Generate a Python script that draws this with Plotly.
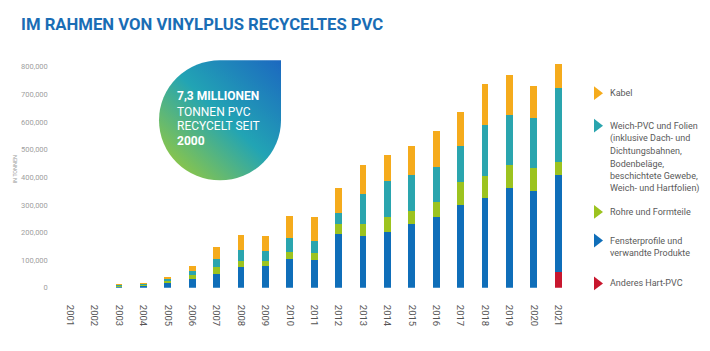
import base64
import plotly.graph_objects as go

W, H = 710, 351

years = [str(y) for y in range(2001, 2022)]
# values in tonnes
anderes = [0]*20 + [57000]
fenster = [0, 0, 5000, 8000, 19000, 34000, 52000, 76000, 81000, 105000, 101000, 195000, 189000,
           201000, 230000, 255000, 300000, 324000, 361000, 351000, 353000]
rohre = [0, 0, 3000, 4000, 8000, 12000, 22000, 23000, 15000, 26000, 25000, 38000, 41000,
         55000, 50000, 57000, 82000, 82000, 85000, 82000, 46000]
weich = [0, 0, 3000, 3000, 6000, 15000, 29000, 39000, 37000, 50000, 45000, 38000, 109000,
         131000, 127000, 127000, 130000, 182000, 181000, 181000, 269000]
kabel = [0, 0, 2000, 2000, 4000, 19000, 45000, 55000, 55000, 79000, 84000, 90000, 104000,
         93000, 106000, 129000, 126000, 151000, 144000, 117000, 85000]

series_names = ["Anderes Hart-PVC", "Fensterprofile und verwandte Produkte", "Rohre und Formteile",
                "Weich-PVC und Folien", "Kabel"]
series_vals = [anderes, fenster, rohre, weich, kabel]
colors = ["#c8172e", "#0f6eb9", "#9cc31f", "#2aa5ae", "#f5ab1c"]

y_ticks = list(range(0, 800001, 100000))

title_text = "IM RAHMEN VON VINYLPLUS RECYCELTES PVC"
bubble_lines = [("7,3 MILLIONEN", True), ("TONNEN PVC", False), ("RECYCELT SEIT", False), ("2000", True)]

legend_items = [
    ("#f5ab1c", ["Kabel"]),
    ("#2aa5ae", ["Weich-PVC und Folien", "(inklusive Dach- und", "Dichtungsbahnen,", "Bodenbeläge,",
                 "beschichtete Gewebe,", "Weich- und Hartfolien)"]),
    ("#9cc31f", ["Rohre und Formteile"]),
    ("#0f6eb9", ["Fensterprofile und", "verwandte Produkte"]),
    ("#c8172e", ["Anderes Hart-PVC"]),
]
legend_y = [94.5, 127.5, 215, 244, 287.5]
line_gap = 12.8

# geometry (pixels)
plot_left, plot_right = 57.8, 570.2
base_px, top_px = 292.0, 53.7
ymax = 850000

fig = go.Figure()
for name, vals, col in zip(series_names, series_vals, colors):
    fig.add_trace(go.Bar(x=years, y=vals, name=name, marker=dict(color=col, line=dict(width=0)),
                         width=0.28, showlegend=False, hoverinfo="y"))

# legend triangles on overlay axes (pixel space)
fig.add_trace(go.Scatter(x=[597]*5, y=legend_y, mode="markers", xaxis="x2", yaxis="y2",
                         marker=dict(symbol="triangle-right", size=12, color=[c for c, _ in legend_items]),
                         showlegend=False, hoverinfo="skip"))

ann = []
for i, (c, lines) in enumerate(legend_items):
    for j, t in enumerate(lines):
        ann.append(dict(x=608/W, y=1-(legend_y[i]+j*line_gap)/H, xref="paper", yref="paper",
                        text=t, showarrow=False, xanchor="left", yanchor="middle",
                        font=dict(family="Roboto", size=9, color="#5a5a5a")))

ann.append(dict(x=19/W, y=1-25/H, xref="paper", yref="paper", text="<b>"+title_text+"</b>",
                showarrow=False, xanchor="left", yanchor="middle",
                font=dict(family="Roboto", size=16.7, color="#1a6db5")))

by = [97.7, 113.5, 127.8, 143.2]
for (t, b), yy in zip(bubble_lines, by):
    ann.append(dict(x=175/W, y=1-yy/H, xref="paper", yref="paper",
                    text=("<b>%s</b>" % t) if b else t, showarrow=False, xanchor="left", yanchor="middle",
                    font=dict(family="Roboto", size=12, color="white")))

ann.append(dict(x=10/W, y=1-172/H, xref="paper", yref="paper", text="IN TONNEN", textangle=-90,
                showarrow=False, font=dict(family="Roboto", size=5.5, color="#999999")))

svg = f'''<svg xmlns="http://www.w3.org/2000/svg" width="{W}" height="{H}" viewBox="0 0 {W} {H}">
<defs><linearGradient id="g" gradientUnits="userSpaceOnUse" x1="281" y1="61" x2="168" y2="178">
<stop offset="0" stop-color="#1c68c0"/><stop offset="0.5" stop-color="#22a4b4"/><stop offset="1" stop-color="#9ccb38"/>
</linearGradient></defs>
<path d="M159 122 A61 61 0 0 1 220 61 L281 61 L281 122 A61 61 0 0 1 159 122 Z" fill="url(#g)"/>
</svg>'''
src = "data:image/svg+xml;base64," + base64.b64encode(svg.encode()).decode()

fig.update_layout(
    width=W, height=H, margin=dict(l=0, r=0, t=0, b=0),
    paper_bgcolor="white", plot_bgcolor="rgba(0,0,0,0)",
    barmode="stack", bargap=0,
    annotations=ann,
    images=[dict(source=src, xref="paper", yref="paper", x=0, y=1, sizex=1, sizey=1,
                 xanchor="left", yanchor="top", sizing="stretch", layer="above")],
    xaxis=dict(domain=[plot_left/W, plot_right/W], type="category", categoryorder="array",
               categoryarray=years, range=[-0.5, 20.5], tickangle=90, showgrid=False,
               showline=False, zeroline=False, ticks="", ticklabelstandoff=16,
               tickfont=dict(family="Roboto", size=9.5, color="#555555")),
    yaxis=dict(domain=[1-base_px/H, 1-top_px/H], range=[0, ymax], tickvals=y_ticks,
               tickformat=",", showgrid=False, showline=False, zeroline=False, ticks="",
               ticklabelstandoff=9, tickfont=dict(family="Roboto", size=7.5, color="#a0a0a0")),
    xaxis2=dict(domain=[0, 1], range=[0, W], visible=False, anchor="y2", fixedrange=True),
    yaxis2=dict(domain=[0, 1], range=[H, 0], visible=False, anchor="x2", fixedrange=True),
)

fig.write_html("out.html")
